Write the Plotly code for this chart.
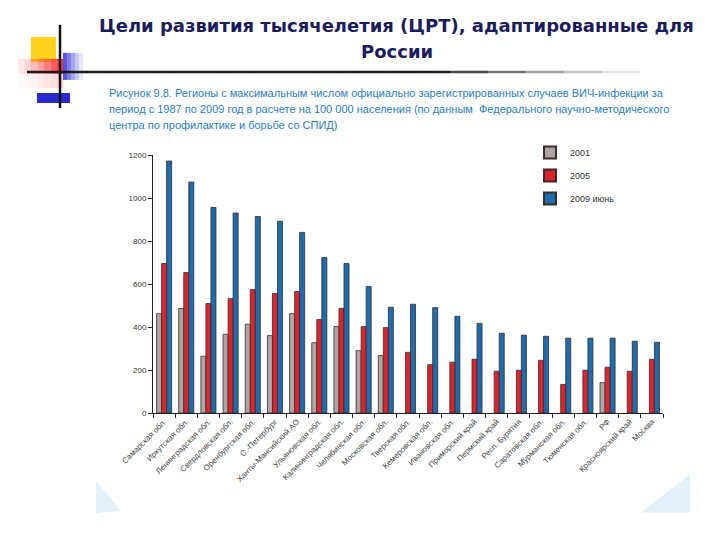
import plotly.graph_objects as go

regions = ["Самарская обл.", "Иркутская обл.", "Ленинградская обл.", "Свердловская обл.",
           "Оренбургская обл.", "С.-Петербург", "Ханты-Мансийский АО", "Ульяновская обл.",
           "Калининградская обл.", "Челябинская обл.", "Московская обл.", "Тверская обл.",
           "Кемеровская обл.", "Ивановская обл.", "Приморский край", "Пермский край",
           "Респ. Бурятия", "Саратовская обл.", "Мурманская обл.", "Тюменская обл.",
           "РФ", "Красноярский край", "Москва"]
v2001 = [462, 486, 264, 366, 413, 360, 462, 327, 402, 290, 267, None, None, None,
         None, None, None, None, None, None, 141, None, None]
v2005 = [695, 653, 509, 532, 574, 556, 565, 435, 487, 402, 397, 282, 225, 236,
         250, 194, 199, 245, 133, 199, 213, 194, 250]
v2009 = [1172, 1074, 956, 930, 914, 892, 840, 723, 695, 588, 492, 506, 490, 450,
         417, 371, 362, 357, 348, 348, 348, 334, 329]
series_names = ["2001", "2005", "2009 июнь"]
yticks = [0, 200, 400, 600, 800, 1000, 1200]

OFF = 8  # page body margin
W, H = 720 - OFF, 540 - OFF
L, R, T, B = 153, 663, 155, 412.7


def px(x):
    return (x - L) / (R - L)


def py(y):
    return (B - y) / (B - T)


fig = go.Figure()
colors = ["#ada6a6", "#e0232b", "#1b6dad"]
for name, vals, col in zip(series_names, [v2001, v2005, v2009], colors):
    fig.add_trace(go.Bar(x=regions, y=vals, name=name, legendgroup=name,
                         marker=dict(color=col, line=dict(color="#3a2a2a", width=0.8))))

shapes = []
shapes.append(dict(type="rect", xref="paper", yref="paper", x0=px(31), x1=px(56),
                   y0=py(37), y1=py(62), fillcolor="#ffd21f", line_width=0, layer="below"))
for i, op in enumerate([0.1, 0.2, 0.32, 0.45, 0.6, 0.75, 0.9]):
    x0 = 18 + i * 6.5
    shapes.append(dict(type="rect", xref="paper", yref="paper", x0=px(x0), x1=px(x0 + 6.5),
                       y0=py(59), y1=py(74), fillcolor="#ff2a2a", opacity=op, line_width=0, layer="below"))
    shapes.append(dict(type="rect", xref="paper", yref="paper", x0=px(x0), x1=px(x0 + 6.5),
                       y0=py(74), y1=py(88), fillcolor="#ff6a6a", opacity=op * 0.3, line_width=0, layer="below"))
for i, op in enumerate([0.85, 0.65, 0.45, 0.28, 0.12]):
    x0 = 63 + i * 4
    shapes.append(dict(type="rect", xref="paper", yref="paper", x0=px(x0), x1=px(x0 + 4),
                       y0=py(53), y1=py(80), fillcolor="#3a3ad8", opacity=op, line_width=0, layer="below"))
shapes.append(dict(type="rect", xref="paper", yref="paper", x0=px(37), x1=px(70),
                   y0=py(93), y1=py(103), fillcolor="#2a2ad0", line_width=0, layer="below"))
shapes.append(dict(type="line", xref="paper", yref="paper", x0=px(60), x1=px(60),
                   y0=py(25), y1=py(108), line=dict(color="#111111", width=2.5)))
shapes.append(dict(type="line", xref="paper", yref="paper", x0=px(27), x1=px(450),
                   y0=py(72), y1=py(72), line=dict(color="#1a1a1a", width=2.5)))
for i, op in enumerate([0.8, 0.6, 0.4, 0.25, 0.12]):
    x0 = 450 + i * 38
    shapes.append(dict(type="line", xref="paper", yref="paper", x0=px(x0), x1=px(x0 + 38),
                       y0=py(72), y1=py(72), line=dict(color="#1a1a1a", width=2.5), opacity=op))
shapes.append(dict(type="path", xref="paper", yref="paper",
                   path=f"M {px(96)} {py(480)} L {px(120)} {py(510)} L {px(96)} {py(513)} Z",
                   fillcolor="#cfe8f5", opacity=0.6, line_width=0, layer="below"))
shapes.append(dict(type="path", xref="paper", yref="paper",
                   path=f"M {px(690)} {py(474)} L {px(690)} {py(512)} L {px(641)} {py(512)} Z",
                   fillcolor="#cfe8f5", opacity=0.6, line_width=0, layer="below"))

annotations = [
    dict(text="<b>Цели развития тысячелетия (ЦРТ), адаптированные для</b>", x=px(396.5), y=py(26),
         xref="paper", yref="paper", showarrow=False, xanchor="center", yanchor="middle",
         font=dict(family="DejaVu Sans", size=18, color="#1c1c5c")),
    dict(text="<b>России</b>", x=px(397), y=py(52), xref="paper", yref="paper", showarrow=False,
         xanchor="center", yanchor="middle", font=dict(family="DejaVu Sans", size=18, color="#1c1c5c")),
]
sub_lines = [
    "Рисунок 9.8. Регионы с максимальным числом официально зарегистрированных случаев ВИЧ-инфекции за",
    "период с 1987 по 2009 год в расчете на 100 000 населения (по данным  Федерального научно-методического",
    "центра по профилактике и борьбе со СПИД)",
]
for i, s in enumerate(sub_lines):
    annotations.append(dict(text=s, x=px(107), y=py(93 + i * 16), xref="paper", yref="paper",
                            showarrow=False, xanchor="left", yanchor="middle",
                            font=dict(family="Liberation Sans", size=11, color="#2a7cc0")))

fig.update_layout(
    width=W, height=H,
    margin=dict(l=L - OFF, r=W - (R - OFF), t=T - OFF, b=H - (B - OFF), pad=0),
    paper_bgcolor="white", plot_bgcolor="white",
    barmode="group", bargap=0.32, bargroupgap=0,
    shapes=shapes, annotations=annotations,
    showlegend=True,
    legend=dict(x=px(530), y=py(138), xanchor="left", yanchor="top",
                font=dict(family="Liberation Sans", size=9, color="#333333"),
                tracegroupgap=4, itemwidth=30, itemsizing="constant", bgcolor="rgba(0,0,0,0)"),
    xaxis=dict(type="category", tickangle=-45, tickfont=dict(family="Liberation Sans", size=8, color="#444444"),
               showline=True, linecolor="#222222", linewidth=1, ticks="outside", ticklen=4,
               tickcolor="#222222", tickson="boundaries", showgrid=False, range=[-0.5, 22.5]),
    yaxis=dict(range=[0, 1200], tickvals=yticks, showline=True, linecolor="#222222", linewidth=1,
               ticks="outside", ticklen=4, tickcolor="#222222", showgrid=False, zeroline=False,
               tickfont=dict(family="Liberation Sans", size=8, color="#333333")),
)

fig.write_html("out.html")
